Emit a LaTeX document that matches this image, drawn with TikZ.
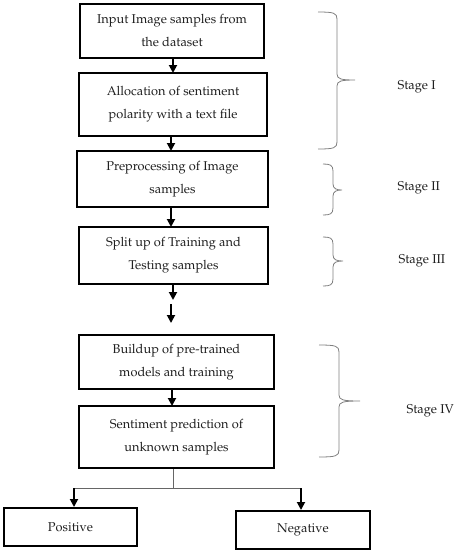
\documentclass[tikz,border=0pt]{standalone}
\usepackage[T1]{fontenc}
\usepackage{mathpazo}
\usetikzlibrary{arrows.meta}
\newcommand{\stbrace}[6]{% x1, xv, xt, ytop, ymid, ybot
  \draw[bracecol] (#1,#4) .. controls ({#2-3},#4) and (#2,{#4+1}) .. (#2,{#4+7})
    -- (#2,{#5-6}) .. controls (#2,{#5-1}) and ({#2+4},#5) .. (#3,#5)
    .. controls ({#2+4},#5) and (#2,{#5+1}) .. (#2,{#5+6})
    -- (#2,{#6-7}) .. controls (#2,{#6-1}) and ({#2-3},#6) .. (#1,#6);}
\begin{document}
\begin{tikzpicture}[x=1pt,y=-1pt,
  stepbox/.style={draw=black,line width=2pt,align=center,inner sep=0pt,
    font=\fontsize{12.8}{23}\selectfont,text=black!88},
  flow/.style={line width=1.8pt,-{Triangle[width=8pt,length=8pt]}},
  thinflow/.style={draw=black!60,line width=0.9pt},
  thinarrow/.style={line width=1.8pt,-{Triangle[width=8pt,length=8pt]}},
  bracecol/.style={draw=black!50,line width=0.8pt},
  stagelbl/.style={font=\fontsize{12.8}{14}\selectfont,text=black!88,anchor=west}]
\useasboundingbox (0,0) rectangle (457,550);
\node[stepbox,minimum width=184pt,minimum height=54pt] (b1) at (172,31) {Input Image samples from\\the dataset};
\node[stepbox,minimum width=188pt,minimum height=63pt] (b2) at (173,104.5) {Allocation of sentiment\\polarity with a text file};
\node[stepbox,minimum width=191pt,minimum height=56pt] (b3) at (172.5,179) {Preprocessing of Image\\samples};
\node[stepbox,minimum width=189pt,minimum height=57pt] (b4) at (173.5,255.5) {Split up of Training and\\Testing samples};
\node[stepbox,minimum width=195pt,minimum height=54pt] (b5) at (176.5,362) {Buildup of pre-trained\\models and training};
\node[stepbox,minimum width=195pt,minimum height=62pt] (b6) at (176.5,437) {Sentiment prediction of\\unknown samples};
\node[stepbox,minimum width=133pt,minimum height=38pt] (pos) at (70.5,527) {Positive};
\node[stepbox,minimum width=134pt,minimum height=38pt] (neg) at (303,530) {Negative};

\coordinate (g1) at (173,300);
\coordinate (g2) at (171,304);
\coordinate (g3) at (171,323);
\coordinate (j) at (173,488);
\coordinate (jl) at (74,488);
\coordinate (jr) at (301,488);

\draw[flow] (173,58) -- (173,73);
\draw[flow] (171,136) -- (171,151);
\draw[flow] (171,207) -- (171,227);
\draw[flow] (b4.south -| g1) -- (g1);
\draw[flow] (g2) -- (g3);
\draw[flow] (172,389) -- (172,406);
\draw[thinflow] (b6.south -| j) -- (j);
\draw[thinflow] (jl) -- (jr);
\draw[thinarrow] (jl) -- (jl |- pos.north);
\draw[thinarrow] (jr) -- (jr |- neg.north);

\stbrace{318}{337}{355}{12}{80}{149}
\stbrace{323}{333}{342}{164}{190}{215}
\stbrace{323}{333}{343}{237}{261}{286}
\stbrace{319}{339}{360}{345}{401}{457}

\node[stagelbl] (s1) at (394,87) {Stage I};
\node[stagelbl] (s2) at (394,188) {Stage II};
\node[stagelbl] (s3) at (395,261) {Stage III};
\node[stagelbl] (s4) at (403,411) {Stage IV};
\end{tikzpicture}
\end{document}
